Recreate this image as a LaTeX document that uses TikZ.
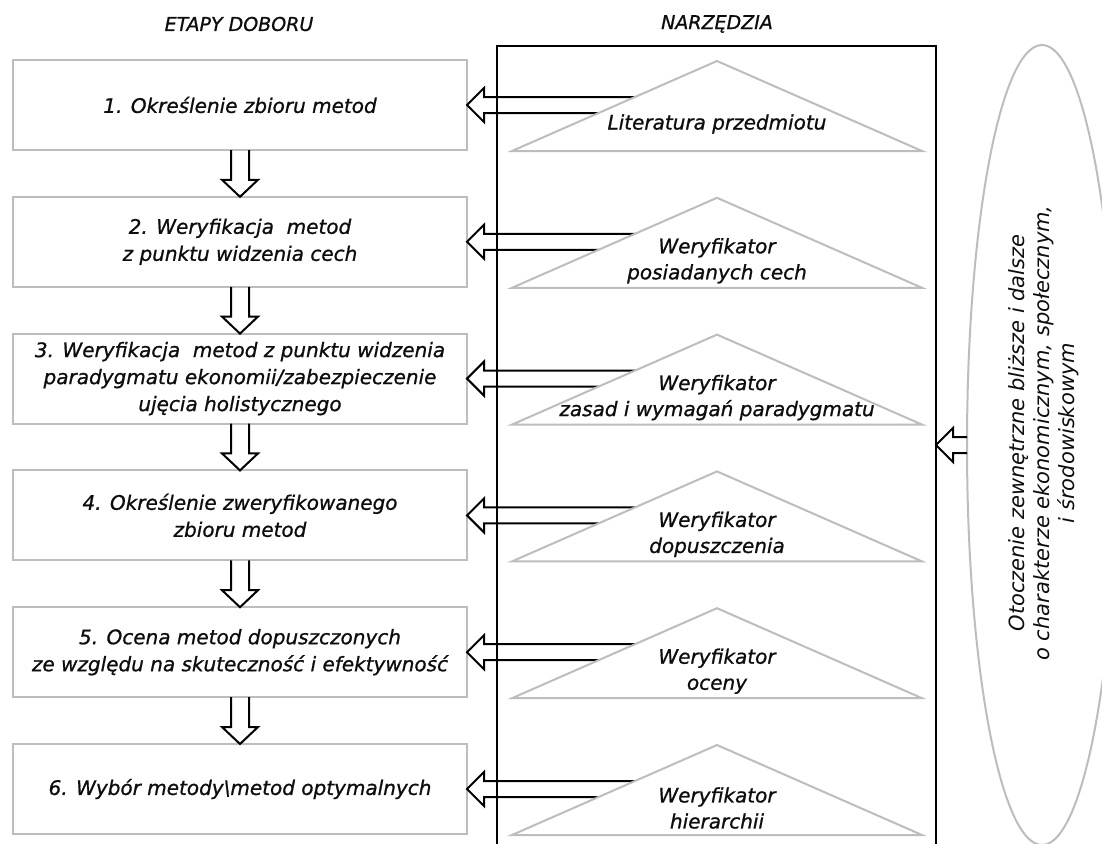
\documentclass[tikz,border=0pt]{standalone}
\usepackage{fontspec}
\setmainfont{DejaVu Sans}[ItalicFeatures={FakeBold=0.9}]
\newfontfamily\envfont{DejaVu Sans}
\usetikzlibrary{calc,shapes.geometric}
\definecolor{boxgray}{HTML}{BDBDBD}
\definecolor{ink}{HTML}{0D0D0D}
\begin{document}
\begin{tikzpicture}[x=1pt,y=-1pt,
  stepbox/.style={draw=boxgray, line width=2pt, fill=white, minimum width=454pt, minimum height=90pt,
    inner sep=0pt, outer sep=0pt, align=center, font=\fontsize{20}{27}\selectfont\itshape, text=ink},
  tri/.style={draw=boxgray, line width=2pt, fill=white, line join=miter},
  trilabel/.style={align=center, font=\fontsize{20}{26}\selectfont\itshape, text=ink, inner sep=0pt},
  headlabel/.style={font=\fontsize{19}{23}\selectfont\itshape, text=ink, inner sep=0pt},
  hollow/.style={draw=black, line width=2pt, line join=miter},
]
\clip (0,0) rectangle (1102,843);
\fill[white] (0,0) rectangle (1102,843);

% headings
\node[headlabel] (h1) at (239,24) {ETAPY DOBORU};
\node[headlabel] (h2) at (717,24) {NARZĘDZIA};

% tools frame
\node[draw=black, line width=1.5pt, minimum width=439pt, minimum height=860pt, anchor=north west,
  inner sep=0pt, outer sep=0pt] (tools) at (497,46) {};

% stage boxes
\node[stepbox] (b1) at (240,105)   {1. Określenie zbioru metod};
\node[stepbox] (b2) at (240,241.8) {2. Weryfikacja~ metod\\z punktu widzenia cech};
\node[stepbox] (b3) at (240,378.6) {3. Weryfikacja~ metod z punktu widzenia\\paradygmatu ekonomii/zabezpieczenie\\ujęcia holistycznego};
\node[stepbox] (b4) at (240,515.4) {4. Określenie zweryfikowanego\\zbioru metod};
\node[stepbox] (b5) at (240,652.2) {5. Ocena metod dopuszczonych\\ze względu na skuteczność i efektywność};
\node[stepbox] (b6) at (240,789)   {6. Wybór metody\textbackslash metod optymalnych};

% down arrows between boxes
\foreach \i in {1,...,5}{
  \pgfmathtruncatemacro\j{\i+1}
  \draw[hollow] ($(b\i.south)+(-9,0)$) -- ($(b\j.north)+(-9,-17)$) -- ++(-9,0) -- (b\j.north)
     -- ++(18,-17) -- ++(-9,0) -- ($(b\i.south)+(9,0)$);
}

% arrows from tools to boxes, then triangles over them
\foreach \i in {1,...,6}{
  \draw[hollow] ($(b\i.east)+(254,-8)$) -- ($(b\i.east)+(17,-8)$) -- ++(0,-9) -- (b\i.east)
     -- ++(17,17) -- ++(0,-9) -- ++(237,0);
  \filldraw[tri] ($(b\i.south)+(272,1)$) -- ($(b\i.north)+(477,1)$) -- ($(b\i.south)+(682,1)$) -- cycle;
}

\node[trilabel] (t1) at ($(b1.center)+(477,19)$) {Literatura przedmiotu};
\node[trilabel] (t2) at ($(b2.center)+(477,19)$) {Weryfikator\\posiadanych cech};
\node[trilabel] (t3) at ($(b3.center)+(477,19)$) {Weryfikator\\zasad i wymagań paradygmatu};
\node[trilabel] (t4) at ($(b4.center)+(477,19)$) {Weryfikator\\dopuszczenia};
\node[trilabel] (t5) at ($(b5.center)+(477,19)$) {Weryfikator\\oceny};
\node[trilabel] (t6) at ($(b6.center)+(477,19)$) {Weryfikator\\hierarchii};

% environment ellipse
\node[ellipse, draw=boxgray, line width=2pt, minimum width=150pt, minimum height=800pt,
  inner sep=0pt, outer sep=0pt] (env) at (1042,445) {};
\node[rotate=90, align=center, font=\envfont\fontsize{21}{25}\selectfont\itshape, text=ink, inner sep=0pt]
  (envtext) at (1044,433) {Otoczenie zewnętrzne bliższe i dalsze\\o charakterze ekonomicznym, społecznym,\\i środowiskowym};

\coordinate (T) at (tools.east |- env.west);
\draw[hollow] ($(env.west)+(0,-8)$) -- ($(T)+(17,-8)$) -- ++(0,-9) -- (T)
   -- ++(17,17) -- ++(0,-9) -- ($(env.west)+(0,8)$);
\end{tikzpicture}
\end{document}
